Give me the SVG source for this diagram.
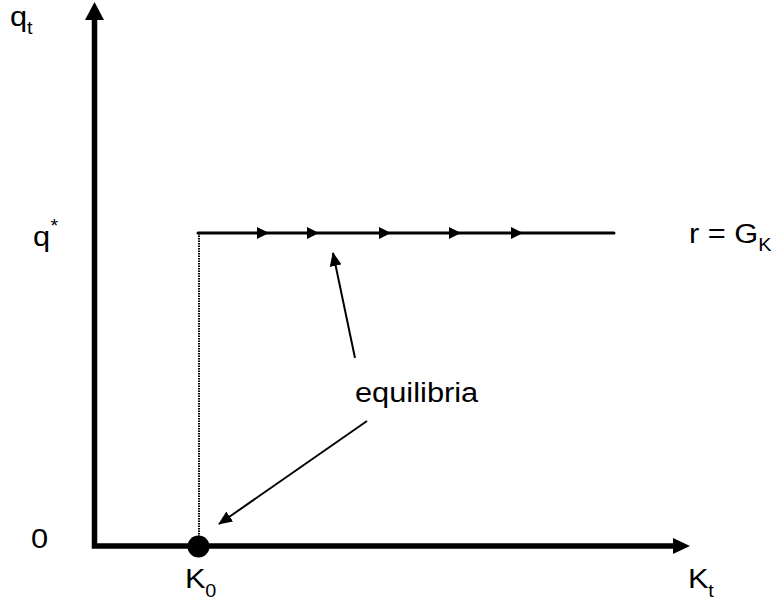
<svg xmlns="http://www.w3.org/2000/svg" width="776" height="601" viewBox="0 0 776 601">
<defs>
<style>
.t{font-family:"Liberation Sans",Arial,sans-serif;font-size:28px;fill:#000}
.s{font-family:"Liberation Sans",Arial,sans-serif;font-size:18px;fill:#000}
.ax{stroke:#000;stroke-width:5.5;fill:none}
.ln{stroke:#000;stroke-width:3;fill:none;stroke-linecap:round}
.dt{stroke:#000;stroke-width:2;stroke-dasharray:1.5 1;fill:none}
.ar{stroke:#000;stroke-width:2;fill:none}
.hd{fill:#000}
</style>
<marker id="ah" viewBox="0 0 14 12" refX="13" refY="6" markerWidth="14" markerHeight="12" markerUnits="userSpaceOnUse" orient="auto">
<path d="M0,0 L14,6 L0,12 z" fill="#000"/>
</marker>
</defs>
<rect width="776" height="601" fill="#fff"/>
<g id="axes">
<path class="ax" d="M94.5,20 V546 H674"/>
<polygon class="hd" points="85,20 104,20 94.5,2"/>
<polygon class="hd" points="673,538 673,554 690,546"/>
</g>
<g id="connectors">
<line class="dt" x1="199" y1="233" x2="199" y2="546"/>
<line class="ln" x1="198" y1="233" x2="614" y2="233"/>
<polygon class="hd" points="257,227 269,233 257,239"/>
<polygon class="hd" points="307,227 319,233 307,239"/>
<polygon class="hd" points="379,227 391,233 379,239"/>
<polygon class="hd" points="449,227 461,233 449,239"/>
<polygon class="hd" points="511,227 523,233 511,239"/>
<line class="ar" x1="355" y1="358" x2="333" y2="253" marker-end="url(#ah)"/>
<line class="ar" x1="367" y1="421" x2="219" y2="524" marker-end="url(#ah)"/>
</g>
<g id="k0-point"><circle cx="198.5" cy="546.5" r="11" fill="#000"/></g>
<g id="labels">
<g transform="translate(10,26) scale(1.1,1)"><text class="t">q</text><text class="s" x="15.5" y="8">t</text></g>
<g transform="translate(33,246) scale(1.1,1)"><text class="t">q</text><text class="s" x="16" y="-14">*</text></g>
<g transform="translate(31,548) scale(1.1,1)"><text class="t">0</text></g>
<g transform="translate(185,588) scale(1.1,1)"><text class="t">K</text><text class="s" x="18.5" y="9">0</text></g>
<g transform="translate(688,588) scale(1.1,1)"><text class="t">K</text><text class="s" x="18.5" y="9">t</text></g>
<g transform="translate(689,243) scale(1.1,1)"><text class="t">r = G</text><text class="s" x="63" y="8">K</text></g>
<g transform="translate(355,402) scale(1.1,1)"><text class="t">equilibria</text></g>
</g>
</svg>
